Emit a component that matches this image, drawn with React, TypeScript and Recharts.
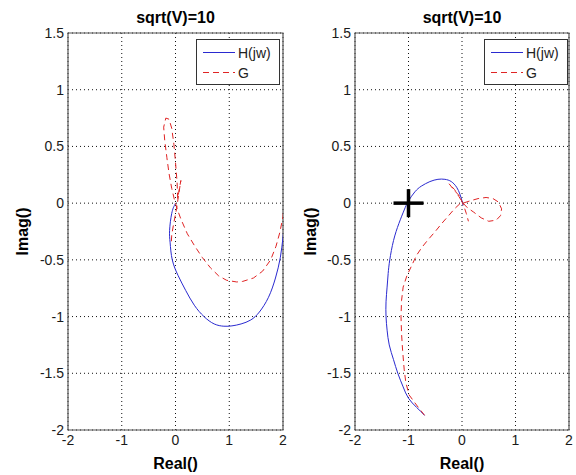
import React from 'react';
import {
  ComposedChart,
  Line,
  Scatter,
  XAxis,
  YAxis,
  CartesianGrid,
  ReferenceArea,
  Legend,
} from 'recharts';

// ---------- data ----------
const xTicks = [-2, -1, 0, 1, 2];
const yTicks = [-2, -1.5, -1, -0.5, 0, 0.5, 1, 1.5];
const panelTitles = ['sqrt(V)=10', 'sqrt(V)=10'];
const seriesNames = ['H(jw)', 'G'];
const xLabel = 'Real()';
const yLabel = 'Imag()';

// left panel, H(jw)
const leftH: [number, number][] = [
  [2.03, -0.02], [2.03, -0.15], [2.0, -0.3], [1.95, -0.48], [1.86, -0.66],
  [1.73, -0.83], [1.56, -0.96], [1.4, -1.03], [1.22, -1.065], [1.05, -1.082],
  [0.9, -1.085], [0.72, -1.065], [0.53, -1.0], [0.35, -0.9], [0.19, -0.77],
  [0.05, -0.64], [-0.06, -0.5], [-0.1, -0.35], [-0.11, -0.24], [-0.07, -0.09],
  [-0.02, -0.02], [0.0, 0.0],
];
// left panel, G
const leftG: [number, number][] = [
  [2.02, 0.0], [2.0, -0.12], [1.94, -0.26], [1.87, -0.38], [1.77, -0.5],
  [1.62, -0.6], [1.45, -0.66], [1.25, -0.69], [1.14, -0.695], [0.95, -0.68],
  [0.8, -0.64], [0.65, -0.57], [0.5, -0.48], [0.36, -0.38], [0.22, -0.27],
  [0.1, -0.14], [0.03, -0.05], [-0.02, 0.03], [-0.07, 0.13], [-0.12, 0.26],
  [-0.16, 0.4], [-0.2, 0.55], [-0.22, 0.67], [-0.18, 0.75], [-0.12, 0.74],
  [-0.07, 0.66], [-0.03, 0.52], [0.0, 0.36], [0.03, 0.18], [0.04, 0.04],
  [0.07, 0.12], [0.1, 0.2], [0.06, 0.08], [0.02, -0.05], [-0.03, -0.17],
  [-0.07, -0.28], [-0.08, -0.37],
];
// right panel, H(jw)
const rightH: [number, number][] = [
  [-0.7, -1.87], [-0.85, -1.8], [-1.0, -1.72], [-1.1, -1.62], [-1.2, -1.5],
  [-1.28, -1.38], [-1.36, -1.25], [-1.4, -1.12], [-1.42, -1.0], [-1.42, -0.87],
  [-1.4, -0.74], [-1.38, -0.62], [-1.35, -0.5], [-1.28, -0.33], [-1.18, -0.18],
  [-1.08, -0.06], [-1.0, 0.02], [-0.88, 0.1], [-0.76, 0.15], [-0.6, 0.19],
  [-0.45, 0.21], [-0.32, 0.21], [-0.2, 0.19], [-0.1, 0.14], [-0.04, 0.08],
  [0.0, 0.02], [0.02, -0.02],
];
// right panel, G
const rightG: [number, number][] = [
  [-0.7, -1.87], [-0.85, -1.78], [-0.99, -1.69], [-1.05, -1.58], [-1.08, -1.47],
  [-1.11, -1.3], [-1.13, -1.15], [-1.14, -1.0], [-1.13, -0.86], [-1.1, -0.74],
  [-1.03, -0.64], [-0.95, -0.56], [-0.85, -0.46], [-0.75, -0.39], [-0.63, -0.32],
  [-0.5, -0.25], [-0.38, -0.18], [-0.25, -0.11], [-0.14, -0.05], [-0.05, -0.01],
  [0.02, 0.0], [0.15, 0.02], [0.3, 0.04], [0.45, 0.05], [0.58, 0.04],
  [0.68, 0.01], [0.74, -0.05], [0.72, -0.11], [0.64, -0.15], [0.5, -0.16],
  [0.36, -0.13], [0.22, -0.08], [0.1, -0.04], [0.02, 0.0], [-0.06, 0.06],
  [-0.14, 0.12], [-0.24, 0.17], [-0.14, 0.11], [-0.04, 0.06], [0.03, -0.02],
  [0.08, -0.09], [0.12, -0.16],
];
// marker at the critical point
const criticalPoint: [number, number][] = [[-1, 0]];

// ---------- styles ----------
const FONT = '"Liberation Sans", Arial, Helvetica, sans-serif';
const BLUE = '#2a2ad0';
const RED = '#e02424';
const toPts = (a: [number, number][]) => a.map(([x, y]) => ({ x, y }));

const PlusShape = (props: any) => {
  const { cx, cy } = props;
  if (cx == null || cy == null) return null;
  return (
    <g>
      <line x1={cx - 15} y1={cy} x2={cx + 15} y2={cy} stroke="#000" strokeWidth={3.5} />
      <line x1={cx} y1={cy - 14} x2={cx} y2={cy + 14} stroke="#000" strokeWidth={3.5} />
    </g>
  );
};

const LegendBox = () => (
  <div
    style={{
      width: 84,
      height: 46,
      border: '1px solid #333',
      background: '#fff',
      boxSizing: 'border-box',
    }}
  >
    <svg width={82} height={44} style={{ display: 'block' }}>
      <line x1={6} y1={12.5} x2={38} y2={12.5} stroke={BLUE} strokeWidth={1} />
      <text x={41} y={18} fontFamily={FONT} fontSize={14} fill="#222">
        {seriesNames[0]}
      </text>
      <line x1={6} y1={32.5} x2={38} y2={32.5} stroke={RED} strokeWidth={1} strokeDasharray="6 4" />
      <text x={41} y={38} fontFamily={FONT} fontSize={14} fill="#222">
        {seriesNames[1]}
      </text>
    </svg>
  </div>
);

function Panel({
  title,
  h,
  g,
  marker,
  yAxisWidth,
  rightMargin,
}: {
  title: string;
  h: [number, number][];
  g: [number, number][];
  marker?: [number, number][];
  yAxisWidth: number;
  rightMargin: number;
}) {
  const tickStyle = { fontSize: 14, fill: '#1a1a1a', fontFamily: FONT };
  return (
    <ComposedChart
      width={288}
      height={475}
      margin={{ top: 0, right: rightMargin, bottom: 0, left: 0 }}
      style={{ fontFamily: FONT }}
    >
      <CartesianGrid
        stroke="#111"
        strokeDasharray="1 3"
        horizontalValues={yTicks}
        verticalValues={xTicks}
      />
      <XAxis
        xAxisId={0}
        dataKey="x"
        type="number"
        domain={[-2, 2]}
        ticks={xTicks}
        interval={0}
        allowDataOverflow
        axisLine={false}
        tickLine={false}
        tickSize={0}
        tickMargin={5}
        height={45}
        tick={tickStyle}
        label={{
          value: xLabel,
          position: 'insideBottom',
          offset: 6,
          fontSize: 16,
          fontWeight: 'bold',
          fill: '#000',
          fontFamily: FONT,
        }}
      />
      <XAxis
        xAxisId="top"
        orientation="top"
        dataKey="x"
        type="number"
        domain={[-2, 2]}
        ticks={xTicks}
        axisLine={false}
        tickLine={false}
        tick={false}
        height={33}
        label={{
          value: title,
          position: 'insideTop',
          offset: 12,
          fontSize: 16,
          fontWeight: 'bold',
          fill: '#000',
          fontFamily: FONT,
        }}
      />
      <YAxis
        yAxisId={0}
        dataKey="y"
        type="number"
        domain={[-2, 1.5]}
        ticks={yTicks}
        interval={0}
        allowDataOverflow
        axisLine={false}
        tickLine={false}
        tickSize={0}
        tickMargin={4}
        width={yAxisWidth}
        tick={tickStyle}
        label={(props: any) => {
          const vb = props.viewBox || { x: 0, y: 33, width: yAxisWidth, height: 397 };
          const cx = vb.x + 22;
          const cy = vb.y + vb.height / 2;
          return (
            <text
              x={cx}
              y={cy}
              transform={`rotate(-90 ${cx} ${cy})`}
              textAnchor="middle"
              dominantBaseline="central"
              fontSize={16}
              fontWeight="bold"
              fill="#000"
              fontFamily={FONT}
            >
              {yLabel}
            </text>
          );
        }}
      />
      <ReferenceArea
        x1={-2}
        x2={2}
        y1={-2}
        y2={1.5}
        fill="none"
        stroke="#555"
        strokeWidth={1.2}
        fillOpacity={0}
        ifOverflow="visible"
      />
      <Line
        data={toPts(h)}
        dataKey="y"
        type="natural"
        stroke={BLUE}
        strokeWidth={1}
        dot={false}
        activeDot={false}
        isAnimationActive={false}
        name={seriesNames[0]}
      />
      <Line
        data={toPts(g)}
        dataKey="y"
        type="linear"
        stroke={RED}
        strokeWidth={1}
        strokeDasharray="6 4"
        dot={false}
        activeDot={false}
        isAnimationActive={false}
        name={seriesNames[1]}
      />
      {marker ? (
        <Scatter
          data={toPts(marker)}
          dataKey="y"
          shape={PlusShape}
          isAnimationActive={false}
          legendType="none"
        />
      ) : null}
      <Legend
        layout="horizontal"
        verticalAlign="middle"
        align="center"
        content={() => <LegendBox />}
        wrapperStyle={{ top: 39, left: 196, width: 84, height: 46 }}
      />
    </ComposedChart>
  );
}

export default function App() {
  return (
    <div
      style={{
        position: 'absolute',
        left: 0,
        top: 0,
        width: 576,
        height: 475,
        background: '#fff',
        display: 'flex',
        fontFamily: FONT,
      }}
    >
      <Panel title={panelTitles[0]} h={leftH} g={leftG} yAxisWidth={68} rightMargin={5} />
      <Panel
        title={panelTitles[1]}
        h={rightH}
        g={rightG}
        marker={criticalPoint}
        yAxisWidth={67}
        rightMargin={7}
      />
    </div>
  );
}
